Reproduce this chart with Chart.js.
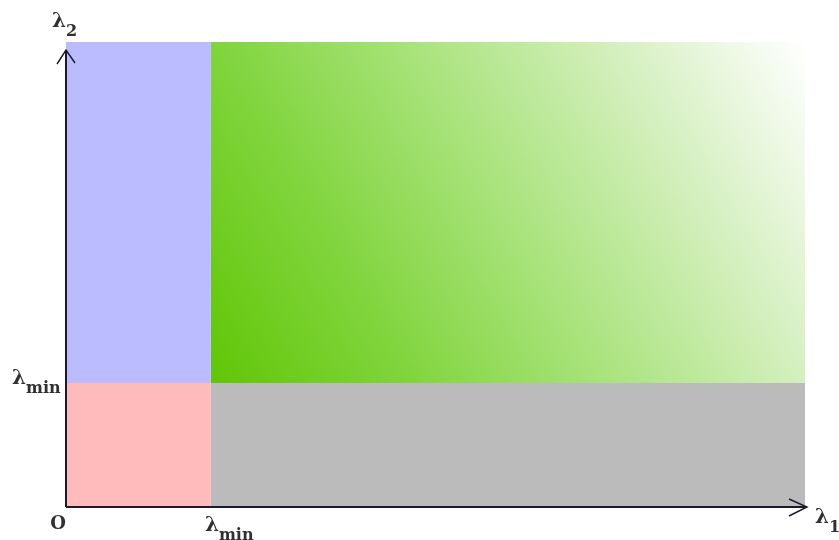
<!DOCTYPE html>
<html><head><meta charset="utf-8">
<style>html,body{margin:0;padding:0;background:#fff}#wrap{width:839px;height:540px}</style>
<script src="https://cdn.jsdelivr.net/npm/chart.js@4/dist/chart.umd.min.js"></script>
</head><body><div id="wrap"><canvas id="c" width="839" height="540"></canvas></div>
<script>
// ---- data ----
const lambdaMin = 1;
const xRange = [0, 5.1];
const yRange = [0, 3.75];
const regionNames = ['both below', 'λ1 below', 'λ2 below', 'both above'];
const regionX0 = [0, 0, 1, 1];
const regionX1 = [1, 1, 5.1, 5.1];
const regionY0 = [0, 1, 0, 1];
const regionY1 = [1, 3.75, 1, 3.75];
const axisLabels = { x: 'λ', xSub: '1', y: 'λ', ySub: '2', origin: 'O', tick: 'λ', tickSub: 'min' };

// ---- styles ----
const regionColors = ['#ffbbbb', '#bbbbff', '#bbbbbb', 'gradient'];

function greenGradient(context) {
  const chart = context.chart;
  if (!chart.chartArea) return '#9ad860';
  const xs = chart.scales.x, ys = chart.scales.y;
  const g = chart.ctx.createLinearGradient(
    xs.getPixelForValue(lambdaMin), ys.getPixelForValue(lambdaMin),
    xs.getPixelForValue(xRange[1]), ys.getPixelForValue(yRange[1]));
  g.addColorStop(0, '#60c606');
  g.addColorStop(0.25, '#80d43c');
  g.addColorStop(0.5, '#a9e37c');
  g.addColorStop(0.78, '#d9f1c6');
  g.addColorStop(1, '#ffffff');
  return g;
}

const datasets = regionNames.map((name, i) => ({
  label: name,
  data: [{x: regionX0[i], y: regionY1[i]}, {x: regionX1[i], y: regionY1[i]}],
  fill: {value: regionY0[i]},
  backgroundColor: regionColors[i] === 'gradient' ? greenGradient : regionColors[i],
  borderWidth: 0,
  pointRadius: 0,
  tension: 0
}));

const axesPlugin = {
  id: 'axes',
  afterDatasetsDraw(chart) {
    const ctx = chart.ctx;
    const xs = chart.scales.x, ys = chart.scales.y;
    const ox = xs.getPixelForValue(0), oy = ys.getPixelForValue(0);
    const xe = chart.chartArea.right + 2;
    const ye = chart.chartArea.top + 8;
    ctx.save();
    ctx.strokeStyle = '#1a1a2a';
    ctx.lineWidth = 2;
    ctx.beginPath();
    ctx.moveTo(ox, oy); ctx.lineTo(xe, oy);
    ctx.moveTo(ox, oy); ctx.lineTo(ox, ye);
    ctx.stroke();
    ctx.lineWidth = 1.4;
    ctx.beginPath();
    ctx.moveTo(xe - 18, oy - 8); ctx.lineTo(xe, oy); ctx.lineTo(xe - 18, oy + 9);
    ctx.moveTo(ox - 9, ye + 14); ctx.lineTo(ox, ye); ctx.lineTo(ox + 9, ye + 13);
    ctx.stroke();

    ctx.fillStyle = '#303030';
    ctx.textAlign = 'left';
    ctx.textBaseline = 'alphabetic';
    const big = 'bold 20px "DejaVu Serif"';
    const sub = 'bold 16px "DejaVu Serif"';
    function sym(x, y, main, s) {
      ctx.font = big; ctx.fillText(main, x, y);
      const w = ctx.measureText(main).width;
      ctx.font = sub; ctx.fillText(s, x + w, y + 9);
    }
    // y axis label
    sym(ox - 14, ye - 23, axisLabels.y, axisLabels.ySub);
    // x axis label
    sym(xe + 8, oy + 16, axisLabels.x, axisLabels.xSub);
    // lambda_min on y
    sym(ox - 54, ys.getPixelForValue(lambdaMin) + 1, axisLabels.tick, axisLabels.tickSub);
    // lambda_min on x
    sym(xs.getPixelForValue(lambdaMin) - 6, oy + 24, axisLabels.tick, axisLabels.tickSub);
    // origin
    ctx.font = 'bold 18px "DejaVu Serif"';
    ctx.textAlign = 'center';
    ctx.fillText(axisLabels.origin, ox - 8, oy + 22);
    ctx.restore();
  }
};

new Chart(document.getElementById('c'), {
  type: 'line',
  data: { datasets },
  options: {
    responsive: false,
    animation: false,
    layout: { padding: { left: 66, right: 34, top: 42, bottom: 33 } },
    scales: {
      x: { type: 'linear', min: xRange[0], max: xRange[1], display: false },
      y: { type: 'linear', min: yRange[0], max: yRange[1], display: false }
    },
    plugins: { legend: { display: false }, tooltip: { enabled: false } }
  },
  plugins: [axesPlugin]
});
</script>
</body></html>
